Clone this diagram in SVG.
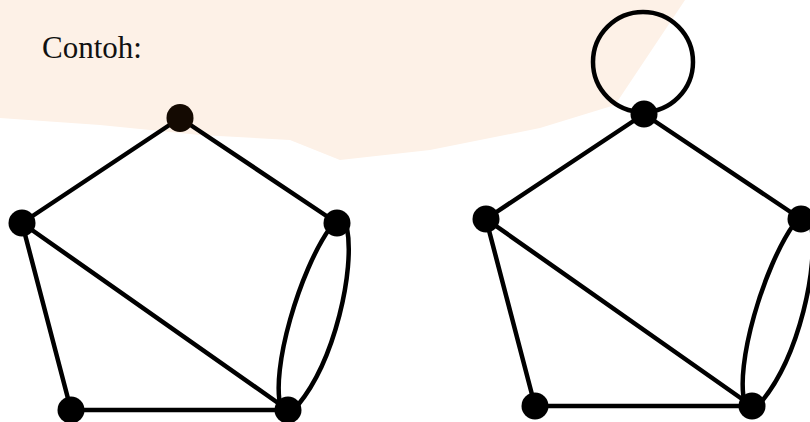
<svg xmlns="http://www.w3.org/2000/svg" width="810" height="422" viewBox="0 0 810 422">
<style>
.e{fill:none;stroke:#000;stroke-width:4.5;stroke-linecap:round}
.n{fill:#000}
.t{font-family:"Liberation Serif","Times New Roman",serif;font-size:31px;fill:#111}
</style>
<rect width="810" height="422" fill="#fff"/>
<path d="M0,0 H685 L615,105 L540,128 L430,150 L340,160 L290,140 L200,135 L100,125 L0,118 Z" fill="#fdf1e7"/>
<text class="t" x="42" y="58">Contoh:</text>
<g id="graph1">
<g id="edges1">
<line class="e" x1="180" y1="118" x2="22" y2="223"/>
<line class="e" x1="180" y1="118" x2="337" y2="223"/>
<line class="e" x1="22" y1="223" x2="288" y2="410"/>
<line class="e" x1="22" y1="223" x2="71" y2="410"/>
<line class="e" x1="71" y1="410" x2="288" y2="410"/>
<path class="e" d="M330,228 C300,270 270,370 281,408"/>
<path class="e" d="M347,228 C355,270 335,360 298,405"/>
</g>
<g id="n1a"><ellipse cx="180" cy="118" rx="13.5" ry="14" fill="#140a02"/></g>
<g id="n1b"><circle class="n" cx="22" cy="223" r="13.5"/></g>
<g id="n1c"><circle class="n" cx="337" cy="223" r="13.5"/></g>
<g id="n1d"><circle class="n" cx="71" cy="410" r="13.5"/></g>
<g id="n1e"><circle class="n" cx="288" cy="410" r="13.5"/></g>
</g>
<g id="graph2" transform="translate(464,-4)">
<g id="edges2">
<circle class="e" cx="179" cy="66" r="50" stroke-width="4"/>
<line class="e" x1="180" y1="118" x2="22" y2="223"/>
<line class="e" x1="180" y1="118" x2="337" y2="223"/>
<line class="e" x1="22" y1="223" x2="288" y2="410"/>
<line class="e" x1="22" y1="223" x2="71" y2="410"/>
<line class="e" x1="71" y1="410" x2="288" y2="410"/>
<path class="e" d="M330,228 C300,270 270,370 281,408"/>
<path class="e" d="M347,228 C355,270 335,360 298,405"/>
</g>
<g id="n2a"><circle class="n" cx="180" cy="118" r="13.5"/></g>
<g id="n2b"><circle class="n" cx="22" cy="223" r="13.5"/></g>
<g id="n2c"><circle class="n" cx="337" cy="223" r="13.5"/></g>
<g id="n2d"><circle class="n" cx="71" cy="410" r="13.5"/></g>
<g id="n2e"><circle class="n" cx="288" cy="410" r="13.5"/></g>
</g>
</svg>
